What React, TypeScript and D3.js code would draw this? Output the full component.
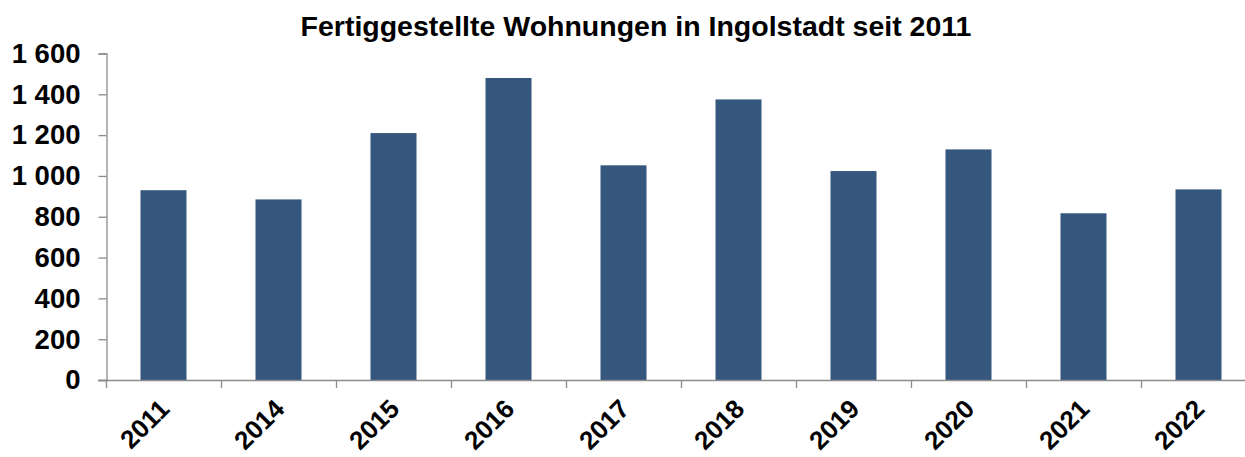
import React, { useEffect, useRef } from "react";
import * as d3 from "d3";

const years = ["2011", "2014", "2015", "2016", "2017", "2018", "2019", "2020", "2021", "2022"];
const completed = [930, 885, 1210, 1480, 1052, 1375, 1024, 1130, 817, 934];
const yTicks = [0, 200, 400, 600, 800, 1000, 1200, 1400, 1600];

const W = 1245;
const H = 457;
const font = "'Liberation Sans', Arial, sans-serif";

function Chart() {
  const svgRef = useRef<SVGSVGElement>(null);

  useEffect(() => {
    const svg = d3.select(svgRef.current);
    svg.selectAll("*").remove();

    const x = d3.scaleBand().domain(years).range([106, 1256]).paddingInner(0.6).paddingOuter(0.3);
    const y = d3.scaleLinear().domain([0, 1600]).range([380, 53.5]);

    // title
    svg
      .append("text")
      .attr("x", 636)
      .attr("y", 36)
      .attr("text-anchor", "middle")
      .attr("font-family", font)
      .attr("font-weight", "bold")
      .attr("font-size", 28.5)
      .text("Fertiggestellte Wohnungen in Ingolstadt seit 2011");

    // bars
    svg
      .append("g")
      .selectAll("rect")
      .data(completed)
      .enter()
      .append("rect")
      .attr("x", (d, i) => x(years[i]) as number)
      .attr("width", x.bandwidth())
      .attr("y", d => y(d))
      .attr("height", d => y(0) - y(d))
      .attr("fill", "#35567d");

    // y axis
    const yAxis = svg
      .append("g")
      .attr("transform", "translate(106.5,0)")
      .call(
        d3
          .axisLeft(y)
          .tickValues(yTicks)
          .tickSize(8)
          .tickPadding(18)
          .tickFormat(d => d3.format(",")(d as number).replace(/,/g, " "))
      );
    yAxis.select(".domain").attr("stroke", "#8c8c8c").attr("stroke-width", 1.3);
    yAxis.selectAll(".tick line").attr("stroke", "#8c8c8c").attr("stroke-width", 1.3);
    yAxis
      .selectAll(".tick text")
      .attr("font-family", font)
      .attr("font-weight", "bold")
      .attr("font-size", 27.5)
      .attr("fill", "#000");

    // x axis
    const xTickPos = years.map((d, i) => 106 + i * x.step()).concat([106 + years.length * x.step()]);
    const xAxis = svg.append("g");
    xAxis
      .append("line")
      .attr("x1", 98)
      .attr("x2", W)
      .attr("y1", 380.5)
      .attr("y2", 380.5)
      .attr("stroke", "#8c8c8c")
      .attr("stroke-width", 1.3);
    xAxis
      .selectAll("line.tk")
      .data(xTickPos)
      .enter()
      .append("line")
      .attr("class", "tk")
      .attr("x1", d => d + 0.5)
      .attr("x2", d => d + 0.5)
      .attr("y1", 380)
      .attr("y2", 388)
      .attr("stroke", "#8c8c8c")
      .attr("stroke-width", 1.3);
    xAxis
      .selectAll("text")
      .data(years)
      .enter()
      .append("text")
      .attr("transform", d => `translate(${(x(d) as number) + x.bandwidth() / 2 + 1},${404}) rotate(-45)`)
      .attr("text-anchor", "end")
      .attr("dy", "0.35em")
      .attr("font-family", font)
      .attr("font-weight", "bold")
      .attr("font-size", 26)
      .text(d => d);
  }, []);

  return <svg ref={svgRef} width={W} height={H} style={{ display: "block" }} />;
}

export default function App() {
  return (
    <div style={{ position: "absolute", left: 0, top: 0, background: "#fff" }}>
      <Chart />
    </div>
  );
}
